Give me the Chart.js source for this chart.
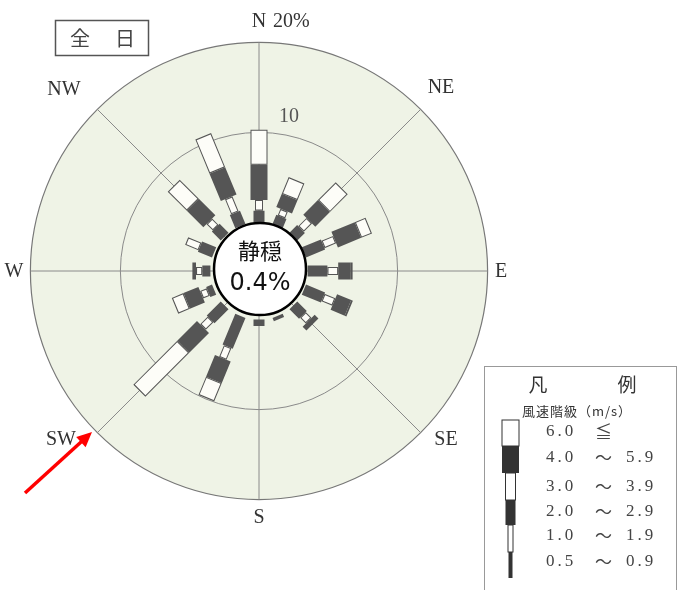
<!DOCTYPE html>
<html>
<head>
<meta charset="utf-8">
<script src="https://cdn.jsdelivr.net/npm/chart.js@4/dist/chart.umd.min.js"></script>
<style>
  html, body { margin: 0; padding: 0; background: #fff; }
  #wrap { width: 678px; height: 590px; position: relative; }
</style>
</head>
<body>
<div id="wrap"><canvas id="rose" width="678" height="590"></canvas></div>
<script>
// 16 directions, clockwise from north
const directions = ['N', 'NNE', 'NE', 'ENE', 'E', 'ESE', 'SE', 'SSE', 'S', 'SSW', 'SW', 'WSW', 'W', 'WNW', 'NW', 'NNW'];
const speedClasses = ['0.5 ～ 0.9', '1.0 ～ 1.9', '2.0 ～ 2.9', '3.0 ～ 3.9', '4.0 ～ 5.9', '6.0 ≦'];

// frequency (%) for each speed class, one value per direction
const speed05 = [0, 0, 0, 0, 0, 0, 0, 0, 0, 0, 0, 0, 0, 0, 0, 0];
const speed10 = [0, 0, 0, 0, 0, 0, 0, 0, 0, 0, 0, 0, 0, 0, 0, 0];
const speed20 = [1.3, 1.1, 1.2, 2.3, 2.2, 2.3, 1.5, 0.4, 0.7, 3.7, 2.2, 0.7, 0.9, 1.7, 1.4, 1.6];
const speed30 = [1.2, 0.8, 1.3, 1.4, 1.2, 1.3, 0.9, 0, 0, 1.4, 1.2, 0.8, 0.7, 1.6, 1.0, 1.8];
const speed40 = [3.9, 1.6, 2.3, 2.8, 1.4, 1.7, 0.6, 0, 0, 2.6, 3.1, 1.8, 0.4, 0, 2.6, 3.3];
const speed60 = [3.9, 2.0, 2.8, 1.3, 0.2, 0.2, 0, 0, 0, 2.2, 6.9, 1.4, 0, 0, 3.0, 4.1];

const calmPct = 0.4;
const ringTicks = [10, 20];
const compassLabels = ['N', 'NE', 'E', 'SE', 'S', 'SW', 'W', 'NW'];

const classSeries = [speed05, speed10, speed20, speed30, speed40, speed60];
const classWidth = [3, 5, 11, 8, 17, 17];
const legendWidth = [4, 5, 10, 10, 17, 17];
const classHollow = [false, true, false, true, false, true];

const DARK = '#555555';
const PAPER = '#fdfdf8';
const CALM_R = 5.4;   // bars start at the calm circle, in % units
const AX = 28;
const INSET = 0.12;

function segPoints(ci, inset) {
  const pts = [];
  directions.forEach((d, i) => {
    const v = classSeries[ci][i];
    if (!v) return;
    let base = CALM_R;
    for (let k = 0; k < ci; k++) base += classSeries[k][i];
    const a = i * Math.PI / 8;
    const r1 = base + inset, r2 = base + v - inset;
    if (r2 <= r1) return;
    pts.push({ x: r1 * Math.sin(a), y: r1 * Math.cos(a) },
             { x: r2 * Math.sin(a), y: r2 * Math.cos(a) },
             { x: null, y: null });
  });
  return pts;
}

const datasets = [];
classSeries.forEach((s, ci) => {
  datasets.push({ label: speedClasses[ci], data: segPoints(ci, 0), borderColor: DARK, borderWidth: classWidth[ci] });
  if (classHollow[ci]) {
    datasets.push({ label: speedClasses[ci] + ' fill', data: segPoints(ci, INSET), borderColor: PAPER, borderWidth: classWidth[ci] - 2 });
  }
});
datasets.forEach((d, i) => Object.assign(d, {
  order: datasets.length - i,
  showLine: true,
  spanGaps: false,
  pointRadius: 0,
  pointHoverRadius: 0,
  borderCapStyle: 'butt',
  fill: false,
  tension: 0
}));

function center(chart) {
  const xs = chart.scales.x, ys = chart.scales.y;
  const cx = xs.getPixelForValue(0), cy = ys.getPixelForValue(0);
  const rad = v => xs.getPixelForValue(CALM_R + v) - cx;
  return { cx, cy, rad };
}

const rosePaper = {
  id: 'rosePaper',
  beforeDatasetsDraw(chart) {
    const ctx = chart.ctx;
    const { cx, cy, rad } = center(chart);
    const outer = rad(ringTicks[ringTicks.length - 1]);
    ctx.save();
    ctx.beginPath();
    ctx.arc(cx, cy, outer, 0, Math.PI * 2);
    ctx.fillStyle = '#eff3e6';
    ctx.fill();
    ctx.strokeStyle = '#777';
    ctx.lineWidth = 1.2;
    ctx.stroke();
    ringTicks.slice(0, -1).forEach(t => {
      ctx.beginPath();
      ctx.arc(cx, cy, rad(t), 0, Math.PI * 2);
      ctx.strokeStyle = '#8a8a8a';
      ctx.lineWidth = 1;
      ctx.stroke();
    });
    ctx.strokeStyle = '#8a8a8a';
    ctx.lineWidth = 1;
    for (let k = 0; k < 8; k++) {
      const a = k * Math.PI / 4;
      ctx.beginPath();
      ctx.moveTo(cx, cy);
      ctx.lineTo(cx + outer * Math.sin(a), cy - outer * Math.cos(a));
      ctx.stroke();
    }
    ctx.restore();
  },
  afterDatasetsDraw(chart) {
    const ctx = chart.ctx;
    const { cx, cy } = center(chart);
    ctx.save();
    ctx.beginPath();
    ctx.arc(cx + 1, cy - 2, 46, 0, Math.PI * 2);
    ctx.fillStyle = '#fff';
    ctx.fill();
    ctx.strokeStyle = '#000';
    ctx.lineWidth = 2.5;
    ctx.stroke();
    ctx.fillStyle = '#111';
    ctx.textAlign = 'center';
    ctx.textBaseline = 'middle';
    ctx.font = '22px "Noto Sans CJK JP"';
    ctx.fillText('静穏', cx + 1, cy - 20);
    ctx.font = '24px "DejaVu Sans"';
    ctx.fillText(calmPct.toFixed(1) + '%', cx + 1, cy + 13);
    ctx.restore();
  },
  afterDraw(chart) {
    const ctx = chart.ctx;
    const { cx, cy, rad } = center(chart);
    ctx.save();
    ctx.fillStyle = '#333';
    ctx.textAlign = 'center';
    ctx.textBaseline = 'middle';
    ctx.font = '20px "Liberation Serif"';
    // compass labels
    const labelOffset = {
      N: [0, -249], NE: [182, -183], E: [242, 1], SE: [187, 169],
      S: [0, 247], SW: [-198, 169], W: [-245, 1], NW: [-195, -181]
    };
    compassLabels.forEach(l => {
      const [dx, dy] = labelOffset[l];
      ctx.fillText(l, cx + dx, cy + dy);
    });
    ctx.textAlign = 'left';
    ctx.fillText(ringTicks[1] + '%', cx + 14, cy - 249);
    ctx.fillStyle = '#555';
    ctx.textAlign = 'center';
    ctx.fillText(String(ringTicks[0]), cx + 30, cy - rad(ringTicks[0]) - 16);

    // title box
    ctx.strokeStyle = '#555';
    ctx.lineWidth = 1.5;
    ctx.strokeRect(55.5, 20.5, 93, 35);
    ctx.fillStyle = '#444';
    ctx.font = '20px "Noto Sans CJK JP"';
    ctx.fillText('全', 80, 38);
    ctx.fillText('日', 125, 38);

    // legend
    ctx.strokeStyle = '#999';
    ctx.lineWidth = 1;
    ctx.strokeRect(484.5, 366.5, 192, 230);
    ctx.fillStyle = '#333';
    ctx.font = '19px "Noto Sans CJK JP"';
    ctx.fillText('凡', 538, 385);
    ctx.fillText('例', 627, 385);
    ctx.font = '13px "Noto Sans CJK JP"';
    ctx.letterSpacing = '1px';
    ctx.fillText('風速階級（m/s）', 577, 411);
    ctx.letterSpacing = '0px';

    const segTop = [552, 525, 500, 473, 446, 420];
    const segBot = [578, 552, 525, 500, 473, 446];
    const rowY = [562, 536, 512, 487, 458, 432];
    const gx = 510.5;
    classSeries.forEach((s, ci) => {
      const w = legendWidth[ci];
      const x0 = gx - w / 2, y0 = segTop[ci], h = segBot[ci] - segTop[ci];
      if (classHollow[ci]) {
        ctx.fillStyle = '#fff';
        ctx.fillRect(x0, y0, w, h);
        ctx.strokeStyle = '#333';
        ctx.lineWidth = 1;
        ctx.strokeRect(x0, y0, w, h);
      } else {
        ctx.fillStyle = '#333';
        ctx.fillRect(x0, y0, w, h);
      }
      const parts = speedClasses[ci].split(' ');
      ctx.fillStyle = '#444';
      ctx.textAlign = 'left';
      ctx.font = '17px "Liberation Serif"';
      ctx.letterSpacing = '3px';
      ctx.fillText(parts[0], 546, rowY[ci]);
      ctx.letterSpacing = '0px';
      ctx.font = '17px "Noto Sans CJK JP"';
      ctx.fillText(parts[1], 595, rowY[ci]);
      if (parts[2]) {
        ctx.font = '17px "Liberation Serif"';
        ctx.letterSpacing = '3px';
        ctx.fillText(parts[2], 626, rowY[ci]);
        ctx.letterSpacing = '0px';
      }
    });

    // red arrow
    const ax0 = 25, ay0 = 493, ax1 = 92, ay1 = 432;
    const ang = Math.atan2(ay1 - ay0, ax1 - ax0);
    ctx.strokeStyle = '#ff0000';
    ctx.fillStyle = '#ff0000';
    ctx.lineWidth = 3.5;
    ctx.beginPath();
    ctx.moveTo(ax0, ay0);
    ctx.lineTo(ax1 - 10 * Math.cos(ang), ay1 - 10 * Math.sin(ang));
    ctx.stroke();
    ctx.beginPath();
    ctx.moveTo(ax1, ay1);
    ctx.lineTo(ax1 - 15 * Math.cos(ang) + 7 * Math.sin(ang), ay1 - 15 * Math.sin(ang) - 7 * Math.cos(ang));
    ctx.lineTo(ax1 - 15 * Math.cos(ang) - 7 * Math.sin(ang), ay1 - 15 * Math.sin(ang) + 7 * Math.cos(ang));
    ctx.closePath();
    ctx.fill();
    ctx.restore();
  }
};

new Chart(document.getElementById('rose'), {
  type: 'scatter',
  data: { datasets },
  options: {
    responsive: false,
    animation: false,
    layout: { padding: { left: 7, right: 167, top: 19, bottom: 67 } },
    plugins: { legend: { display: false }, tooltip: { enabled: false } },
    scales: {
      x: { type: 'linear', min: -AX, max: AX, display: false },
      y: { type: 'linear', min: -AX, max: AX, display: false }
    }
  },
  plugins: [rosePaper]
});
</script>
</body>
</html>
